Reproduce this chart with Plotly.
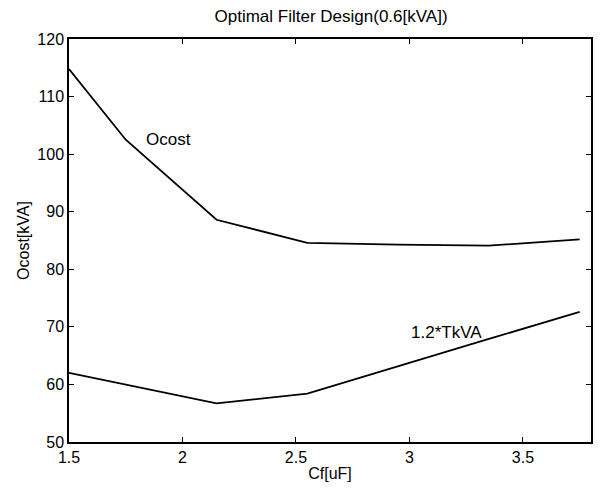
import plotly.graph_objects as go

# Filter capacitance sweep [uF]
cf = [1.5, 1.75, 2.15, 2.55, 2.95, 3.35, 3.75]
# Operating cost curve
ocost = [114.8, 102.5, 88.6, 84.6, 84.3, 84.1, 85.2]
# 1.2 * total kVA curve
tkva = [62.0, 60.0, 56.7, 58.4, 63.2, 67.9, 72.6]

FONT = "Liberation Sans, Arial, Helvetica, sans-serif"

fig = go.Figure()
for y in (ocost, tkva):
    fig.add_trace(go.Scatter(x=cf, y=y, mode="lines",
                             line=dict(color="black", width=1.8),
                             showlegend=False, hoverinfo="skip"))

fig.add_annotation(x=1.83, y=102.5, text="Ocost", showarrow=False,
                   xanchor="left", yanchor="middle",
                   font=dict(family=FONT, size=17, color="black"))
fig.add_annotation(x=3.0, y=69.1, text="1.2*TkVA", showarrow=False,
                   xanchor="left", yanchor="middle",
                   font=dict(family=FONT, size=17, color="black"))

axis_common = dict(showgrid=False, zeroline=False, showline=True,
                   linecolor="black", linewidth=1.5, mirror="ticks",
                   ticks="inside", ticklen=5, tickcolor="black", tickwidth=1.2,
                   tickfont=dict(family=FONT, size=16, color="black"))

fig.update_xaxes(range=[1.5, 3.8], tickvals=[1.5, 2, 2.5, 3, 3.5],
                 ticktext=["1.5", "2", "2.5", "3", "3.5"],
                 title=dict(text="Cf[uF]", standoff=3,
                            font=dict(family=FONT, size=16, color="black")),
                 **axis_common)
fig.update_yaxes(range=[50, 120], tickvals=list(range(50, 121, 10)),
                 title=dict(text="Ocost[kVA]", standoff=4,
                            font=dict(family=FONT, size=16, color="black")),
                 **axis_common)

fig.update_layout(
    width=603, height=490,
    margin=dict(l=69, r=10, t=39, b=48),
    paper_bgcolor="white", plot_bgcolor="white",
    title=dict(text="Optimal Filter Design(0.6[kVA])", x=0.549, xanchor="center",
               y=0.967, yanchor="middle",
               font=dict(family=FONT, size=17, color="black")),
)

fig.write_html("out.html")
